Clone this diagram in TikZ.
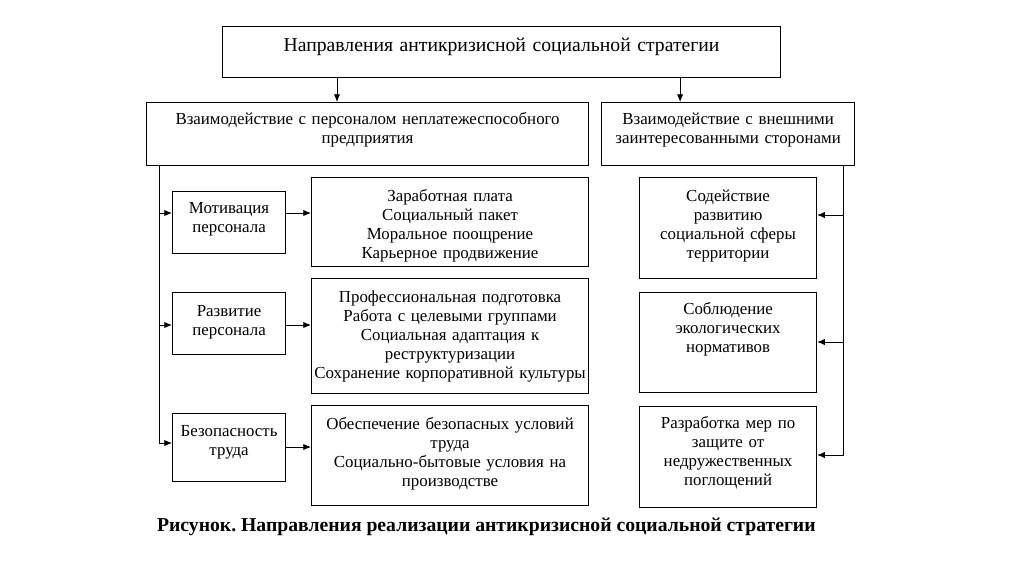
\documentclass[tikz,border=0pt]{standalone}
\usepackage{fontspec}
\setmainfont{Liberation Serif}
\usepackage{tikz}
\usetikzlibrary{arrows.meta}
\frenchspacing

\begin{document}
\begin{tikzpicture}[
        bx/.style n args={3}{draw, line width=0.8pt, inner sep=0pt, align=center,
            text width=#1, text height=#2, text depth=#3, anchor=north west,
            font=\fontsize{12}{13.5}\selectfont},
        arr/.style={-{Latex[length=5.5pt,width=4.5pt]}, line width=0.6pt}]
    \useasboundingbox (0,0) rectangle (25.6,-14.35);

    % --- TOP box ---
    \node[bx={13.95cm}{0.625cm}{0.65cm}, font=\fontsize{14}{16}\selectfont] (top) at (5.55,-0.65)
        {Направления антикризисной социальной стратегии};

    % --- second level ---
    \node[bx={11.05cm}{0.55cm}{1.025cm}] (pers) at (3.65,-2.55)
        {Взаимодействие с персоналом неплатежеспособного\\предприятия};
    \node[bx={6.325cm}{0.55cm}{1.025cm}] (ext) at (15.025,-2.55)
        {Взаимодействие с внешними\\заинтересованными сторонами};

    % --- LEFT column ---
    \node[bx={2.825cm}{0.55cm}{1.0cm}] (motiv) at (4.3,-4.775) {Мотивация\\персонала};
    \node[bx={2.825cm}{0.6cm}{0.95cm}] (razv) at (4.3,-7.3) {Развитие\\персонала};
    \node[bx={2.825cm}{0.575cm}{1.125cm}] (bez) at (4.3,-10.325) {Безопасность\\труда};

    \node[bx={6.925cm}{0.6cm}{1.625cm}] (motivlist) at (7.775,-4.425)
        {Заработная плата\\Социальный пакет\\Моральное поощрение\\Карьерное продвижение};
    \node[bx={6.925cm}{0.6cm}{2.275cm}] (razvlist) at (7.775,-6.95)
        {Профессиональная подготовка\\Работа с целевыми группами\\Социальная адаптация к\\реструктуризации\\Сохранение корпоративной культуры};
    \node[bx={6.925cm}{0.6cm}{1.9cm}] (bezlist) at (7.775,-10.125)
        {Обеспечение безопасных условий\\труда\\Социально-бытовые условия на\\производстве};

    % --- RIGHT column ---
    \node[bx={4.425cm}{0.6cm}{1.925cm}] (soc) at (15.975,-4.425)
        {Содействие\\развитию\\социальной сферы\\территории};
    \node[bx={4.425cm}{0.55cm}{1.95cm}] (eco) at (15.975,-7.3)
        {Соблюдение\\экологических\\нормативов};
    \node[bx={4.425cm}{0.55cm}{1.975cm}] (zas) at (15.975,-10.15)
        {Разработка мер по\\защите от\\недружественных\\поглощений};

    % --- caption ---
    \node[font=\bfseries\fontsize{14}{16}\selectfont] (cap) at (12.16,-13.175)
        {Рисунок. Направления реализации антикризисной социальной стратегии};

    % --- ARROWS from the top ---
    \draw[arr] ([xshift=2.875cm]top.south west) -- ([xshift=2.875cm]top.south west |- pers.north);
    \draw[arr] ([xshift=-2.525cm]top.south east) -- ([xshift=-2.525cm]top.south east |- ext.north);

    % --- left trunk ---
    \coordinate (ltrunk) at ([xshift=0.325cm]pers.south west);
    \coordinate (lv1) at (0,-5.325);
    \coordinate (lv2) at (0,-8.125);
    \coordinate (lv3) at (0,-11.075);
    \coordinate (lv4) at (0,-11.175);
    \draw[arr] (ltrunk) |- (lv3 -| bez.west);
    \draw[arr] (ltrunk |- lv1) -- (lv1 -| motiv.west);
    \draw[arr] (ltrunk |- lv2) -- (lv2 -| razv.west);
    \draw[arr] (lv1 -| motiv.east) -- (lv1 -| motivlist.west);
    \draw[arr] (lv2 -| razv.east) -- (lv2 -| razvlist.west);
    \draw[arr] (lv4 -| bez.east) -- (lv4 -| bezlist.west);

    % --- right trunk ---
    \coordinate (rtrunk) at ([xshift=-0.3cm]ext.south east);
    \coordinate (rv1) at (0,-5.375);
    \coordinate (rv2) at (0,-8.55);
    \coordinate (rv3) at (0,-11.375);
    \draw[arr] (rtrunk) |- (rv3 -| zas.east);
    \draw[arr] (rtrunk |- rv1) -- (rv1 -| soc.east);
    \draw[arr] (rtrunk |- rv2) -- (rv2 -| eco.east);
\end{tikzpicture}
\end{document}
